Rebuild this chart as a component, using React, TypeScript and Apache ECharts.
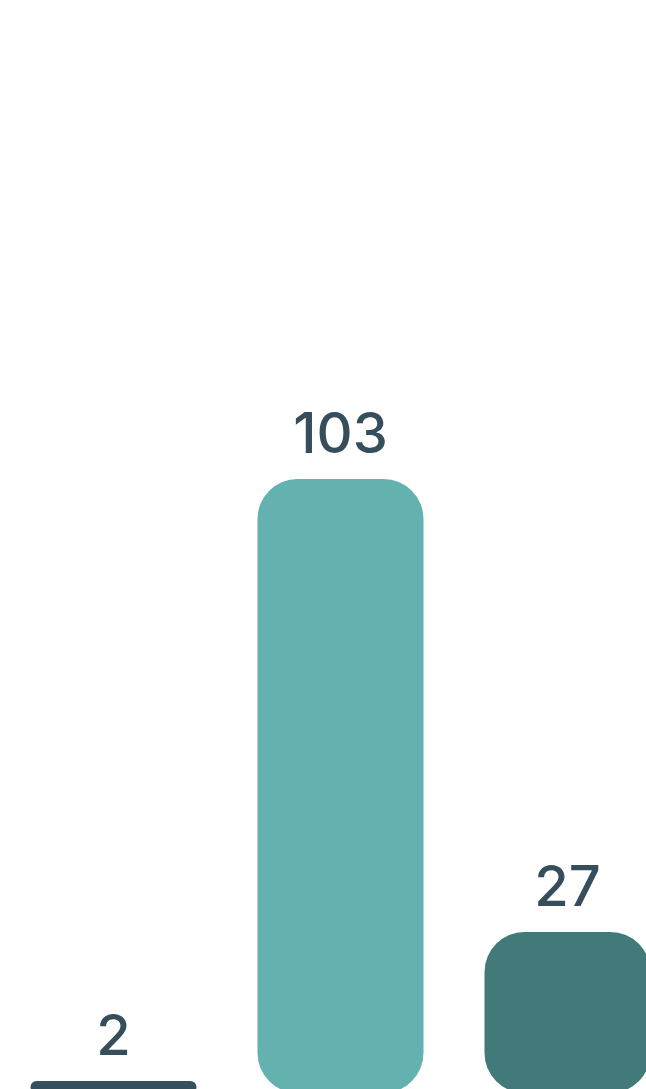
import React, { useEffect, useRef } from "react";
import * as echarts from "echarts";

const categories = ["A", "B", "C"];
const values = [2, 103, 27];
const colors = ["#36505e", "#64b2b0", "#417a78"];

export default function App() {
  const ref = useRef<HTMLDivElement>(null);
  useEffect(() => {
    document.body.style.margin = "0";
    document.body.style.overflow = "hidden";
    const chart = echarts.init(ref.current!, null, { renderer: "svg" });
    chart.setOption({
      animation: false,
      grid: { left: 0, right: 0, top: 479, bottom: 0, containLabel: false },
      xAxis: {
        type: "category",
        data: categories,
        show: false,
      },
      yAxis: { type: "value", min: 0, max: 103, show: false },
      series: [
        {
          type: "bar",
          barWidth: 166,
          data: values.map((v, i) => ({ value: v, itemStyle: { color: colors[i] } })),
          itemStyle: { borderRadius: 40 },
          label: {
            show: true,
            position: "top",
            distance: 18,
            color: "#364e5b",
            fontSize: 56,
            fontFamily: "Inter",
            fontWeight: 500,
          },
        },
      ],
    });
    return () => chart.dispose();
  }, []);
  return (
    <div style={{ width: 646, height: 1089, overflow: "hidden", position: "relative" }}>
      <div ref={ref} style={{ width: 681, height: 1093, position: "absolute", left: 0, top: 0 }} />
    </div>
  );
}
